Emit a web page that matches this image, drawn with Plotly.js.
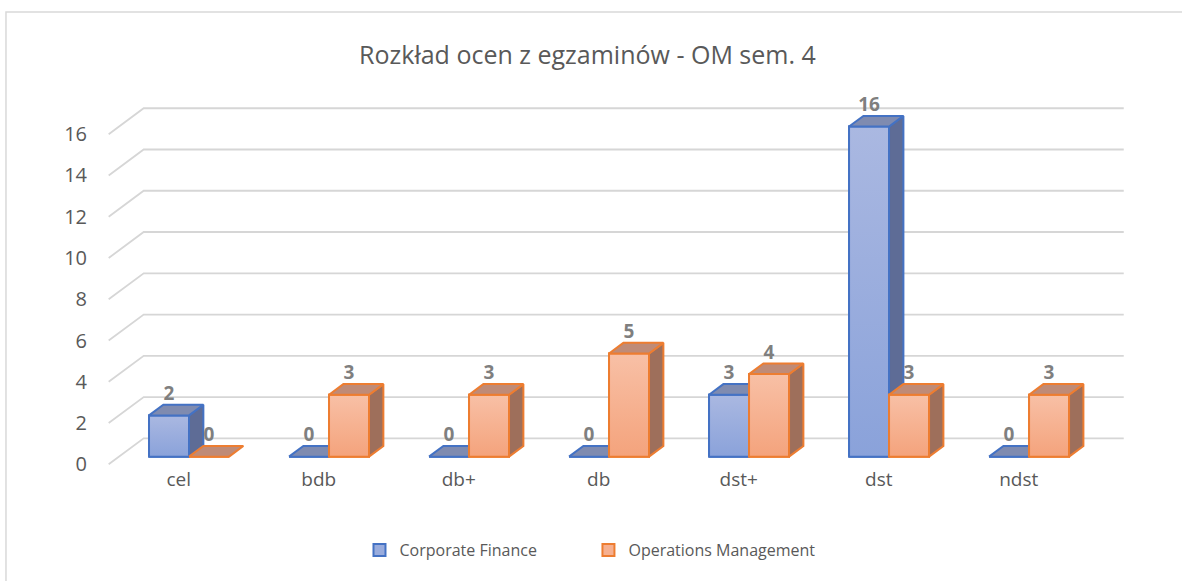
<!DOCTYPE html>
<html>
<head>
<meta charset="utf-8">
<script src="https://cdn.plot.ly/plotly-3.0.1.min.js"></script>
<style>html,body{margin:0;padding:0;background:#fff;}#chart{width:1182px;height:581px;}</style>
</head>
<body>
<div id="chart"></div>
<script>
// ---- data ----
const categories = ['cel', 'bdb', 'db+', 'db', 'dst+', 'dst', 'ndst'];
const corporateFinance = [2, 0, 0, 0, 3, 16, 0];
const operationsManagement = [0, 3, 3, 5, 4, 3, 3];
const yTickValues = [0, 2, 4, 6, 8, 10, 12, 14, 16];
const seriesNames = ['Corporate Finance', 'Operations Management'];

// ---- 3D geometry (style, in axis units) ----
const DX = 0.25, DY = 1.26;     // depth of the floor
const F = 0.295, BD = 0.41;     // bar front position and bar depth as fractions of floor depth
const W = 0.2857;               // bar width
const X_RANGE = [-0.562, 7.009];
const Y_RANGE = [-0.082, 18.144];

const styles = [
  {off: -W, legend: 'legend', line: '#4472c4', front: '#99acdd', gradTop: '#aab8e1', gradBot: '#8aa2da', top: '#7f8bb0', side: '#5e6c96'},
  {off: 0,  legend: 'legend2', line: '#ed7d31', front: '#f6b090', gradTop: '#f8c0a6', gradBot: '#f4a37c', top: '#bf8b77', side: '#9e6f5b'}
];

const idx = categories.map((c, i) => i);
const traces = [];

// gridlines on back wall (bottom subplot)
const XL = -0.5, XR = categories.length - 0.5;
const gx = [], gy = [];
yTickValues.forEach(t => {
  gx.push(XL, XL + DX, XR + DX, null);
  gy.push(t, t + DY, t + DY, null);
});
traces.push({type: 'scatter', mode: 'lines', x: gx, y: gy, xaxis: 'x', yaxis: 'y',
  line: {color: '#d6d6d6', width: 1.8}, hoverinfo: 'skip', showlegend: false});

function barTraces(vals, s, name, xa, ya) {
  const st = styles[s];
  const y0 = F * DY;
  const out = [];
  out.push({type: 'bar', name: name, legend: st.legend, x: idx, y: vals, base: idx.map(() => y0),
    offset: st.off + F * DX, width: W, xaxis: xa, yaxis: ya,
    marker: {color: st.front, line: {color: st.line, width: 2}}, hoverinfo: 'skip'});
  // gradient front faces
  vals.forEach((v, i) => {
    if (v <= 0) return;
    const x0 = i + st.off + F * DX;
    out.push({type: 'scatter', mode: 'lines', xaxis: xa, yaxis: ya, showlegend: false, hoverinfo: 'skip',
      x: [x0, x0 + W, x0 + W, x0, x0], y: [y0, y0, y0 + v, y0 + v, y0],
      fill: 'toself', fillcolor: st.front,
      fillgradient: {type: 'vertical', start: y0, stop: y0 + v, colorscale: [[0, st.gradBot], [1, st.gradTop]]},
      line: {color: st.line, width: 2}});
  });
  // top and side faces
  const tx = [], ty = [], sx = [], sy = [];
  vals.forEach((v, i) => {
    const x0 = i + st.off + F * DX;
    tx.push(x0, x0 + W, x0 + W + BD * DX, x0 + BD * DX, x0, null);
    ty.push(y0 + v, y0 + v, y0 + v + BD * DY, y0 + v + BD * DY, y0 + v, null);
    if (v > 0) {
      sx.push(x0 + W, x0 + W + BD * DX, x0 + W + BD * DX, x0 + W, x0 + W, null);
      sy.push(y0, y0 + BD * DY, y0 + v + BD * DY, y0 + v, y0, null);
    }
  });
  out.push({type: 'scatter', mode: 'lines', x: sx, y: sy, xaxis: xa, yaxis: ya, fill: 'toself',
    fillcolor: st.side, line: {color: st.line, width: 2}, hoverinfo: 'skip', showlegend: false});
  out.push({type: 'scatter', mode: 'lines', x: tx, y: ty, xaxis: xa, yaxis: ya, fill: 'toself',
    fillcolor: st.top, line: {color: st.line, width: 2}, hoverinfo: 'skip', showlegend: false});
  return out;
}

traces.push(...barTraces(corporateFinance, 0, seriesNames[0], 'x2', 'y2'));
traces.push(...barTraces(operationsManagement, 1, seriesNames[1], 'x3', 'y3'));

// data labels (top subplot)
[corporateFinance, operationsManagement].forEach((vals, s) => {
  const st = styles[s];
  traces.push({type: 'scatter', mode: 'text', xaxis: 'x3', yaxis: 'y3', showlegend: false, hoverinfo: 'skip',
    x: vals.map((v, i) => i + st.off + F * DX + W / 2),
    y: vals.map(v => F * DY + v + BD * DY),
    text: vals.map(v => String(v)), textposition: 'top center', cliponaxis: false,
    textfont: {family: 'Open Sans, sans-serif', size: 19, color: '#7f7f7f', weight: 'bold'}});
});

const hiddenX = (o) => Object.assign({range: X_RANGE, visible: false, fixedrange: true}, o);
const hiddenY = (o) => Object.assign({range: Y_RANGE, visible: false, fixedrange: true}, o);
const legendBase = {orientation: 'h', xanchor: 'left', y: -0.2234, yanchor: 'middle',
  font: {size: 16, color: '#595959'}, bgcolor: 'rgba(0,0,0,0)'};

const layout = {
  width: 1182, height: 581,
  margin: {l: 100, r: 22, t: 90, b: 115},
  paper_bgcolor: '#ffffff', plot_bgcolor: 'rgba(0,0,0,0)',
  font: {family: 'Open Sans, sans-serif', color: '#595959'},
  title: {text: 'Rozkład ocen z egzaminów - OM sem. 4', font: {size: 25, color: '#595959'},
    xref: 'container', yref: 'container', x: 0.497, xanchor: 'center', y: 0.905, yanchor: 'middle'},
  showlegend: true,
  legend: Object.assign({x: 0.2448}, legendBase),
  legend2: Object.assign({x: 0.4608}, legendBase),
  xaxis: {range: X_RANGE, tickmode: 'array', tickvals: idx, ticktext: categories,
    showgrid: false, zeroline: false, showline: false, ticks: '', fixedrange: true,
    tickfont: {size: 19, color: '#595959'}},
  yaxis: {range: Y_RANGE, tickmode: 'array', tickvals: yTickValues, ticktext: yTickValues.map(String),
    showgrid: false, zeroline: false, showline: false, ticks: '', fixedrange: true, ticklabelstandoff: 12,
    tickfont: {size: 20, color: '#595959'}},
  xaxis2: hiddenX({overlaying: 'x'}), yaxis2: hiddenY({overlaying: 'y'}),
  xaxis3: hiddenX({overlaying: 'x'}), yaxis3: hiddenY({overlaying: 'y'}),
  shapes: [{type: 'rect', xref: 'paper', yref: 'paper', x0: -0.0887, x1: 1.03, y0: -0.33, y1: 1.2074,
    line: {color: '#d9d9d9', width: 1.5}, fillcolor: 'rgba(0,0,0,0)', layer: 'below'}]
};

Plotly.newPlot('chart', traces, layout, {displayModeBar: false, staticPlot: true});
</script>
</body>
</html>
